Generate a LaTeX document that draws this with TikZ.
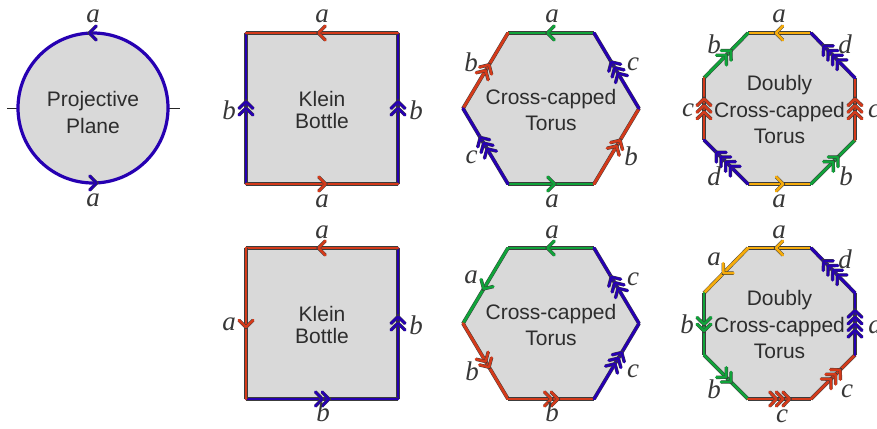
\documentclass[tikz,border=0pt]{standalone}
\usepackage{fontspec}
\setmainfont{Liberation Sans}
\newfontfamily\labfont{Liberation Serif}
\definecolor{cblue}{RGB}{38,0,178}
\definecolor{cred}{RGB}{212,58,26}
\definecolor{cgreen}{RGB}{16,163,58}
\definecolor{corange}{RGB}{246,172,12}
\definecolor{gfill}{RGB}{217,217,217}
\definecolor{txt}{RGB}{45,45,45}
\definecolor{lab}{RGB}{55,55,55}
\definecolor{rim}{RGB}{60,60,60}
\tikzset{
  face/.style={fill=gfill, draw=none},
  side/.style={draw=#1, line width=2.8pt, line cap=round, preaction={draw=rim, line width=3.7pt}},
  chevline/.style={draw=#1, line width=2.5pt, line cap=round, line join=round, preaction={draw=rim, line width=3.4pt}},
  pics/chev/.style args={#1/#2}{code={
    \foreach \k in {1,...,#1}{
      \pgfmathsetmacro\tx{3.6+(\k-(#1+1)/2)*6.6}
      \draw[chevline=#2] (\tx-7,-7.2) -- (\tx,0) -- (\tx-7,7.2);
    }}},
  mid/.style={pos=0.5, sloped, allow upside down},
  lbl/.style={text=lab, font=\labfont\itshape\fontsize{27}{27}\selectfont, anchor=base, inner sep=0pt},
  ttl/.style={text=txt, font=\fontsize{21}{25}\selectfont, anchor=base, inner sep=0pt},
}
\newcommand\polyedge[4]{\draw[side=#3] (#1) -- (#2); \path (#1) -- pic[mid]{chev=#4/#3} (#2);}
\begin{document}
\begin{tikzpicture}[x=1pt,y=-1pt]
\useasboundingbox (0,0) rectangle (877,428);

% ---------- Projective plane ----------
\coordinate (P) at (93,108);
\coordinate (tkL1) at (7,108);  \coordinate (tkL2) at (18,108);
\coordinate (tkR1) at (168,108); \coordinate (tkR2) at (180,108);
\draw[line width=0.9pt, black!85] (tkL1) -- (tkL2);
\draw[line width=0.9pt, black!85] (tkR1) -- (tkR2);
\draw[draw=cblue, line width=3.2pt, fill=gfill] (P) circle[radius=75];
\coordinate (Pt) at (93,33); \coordinate (Pb) at (93,183);
\pic[rotate=180] at (Pt) {chev=1/cblue};
\pic at (Pb) {chev=1/cblue};
\node[ttl] (tP1) at (93,106) {Projective};
\node[ttl] (tP2) at (93,133.3) {Plane};
\node[lbl] (lPt) at (93,22.5) {a};
\node[lbl] (lPb) at (93,206) {a};

% ---------- Klein bottle 1 ----------
\coordinate (K1tl) at (246,33);  \coordinate (K1tr) at (398,33);
\coordinate (K1br) at (398,184); \coordinate (K1bl) at (246,184);
\fill[face] (K1tl) -- (K1tr) -- (K1br) -- (K1bl) -- cycle;
\polyedge{K1bl}{K1tl}{cblue}{2}
\polyedge{K1br}{K1tr}{cblue}{2}
\polyedge{K1tr}{K1tl}{cred}{1}
\polyedge{K1bl}{K1br}{cred}{1}
\node[ttl] (tK1a) at (322,106) {Klein};
\node[ttl] (tK1b) at (322,128.3) {Bottle};
\node[lbl] (lK1t) at (322,23) {a};
\node[lbl] (lK1b) at (322,207) {a};
\node[lbl] (lK1l) at (229,119) {b};
\node[lbl] (lK1r) at (416,119) {b};

% ---------- Klein bottle 2 ----------
\coordinate (K2tl) at (246,248);  \coordinate (K2tr) at (398,248);
\coordinate (K2br) at (398,399);  \coordinate (K2bl) at (246,399);
\fill[face] (K2tl) -- (K2tr) -- (K2br) -- (K2bl) -- cycle;
\polyedge{K2br}{K2tr}{cblue}{2}
\polyedge{K2bl}{K2br}{cblue}{2}
\polyedge{K2tr}{K2tl}{cred}{1}
\polyedge{K2tl}{K2bl}{cred}{1}
\node[ttl] (tK2a) at (322,321) {Klein};
\node[ttl] (tK2b) at (322,343.3) {Bottle};
\node[lbl] (lK2t) at (322,238) {a};
\node[lbl] (lK2l) at (229,330) {a};
\node[lbl] (lK2r) at (416,334) {b};
\node[lbl] (lK2b) at (323,421.5) {b};

% ---------- Hexagon 1 ----------
\coordinate (H1tl) at (508,33);   \coordinate (H1tr) at (594,33);
\coordinate (H1r) at (639,108.5); \coordinate (H1br) at (594,184);
\coordinate (H1bl) at (508,184);  \coordinate (H1l) at (463,108.5);
\fill[face] (H1tl) -- (H1tr) -- (H1r) -- (H1br) -- (H1bl) -- (H1l) -- cycle;
\polyedge{H1tr}{H1tl}{cgreen}{1}
\polyedge{H1bl}{H1br}{cgreen}{1}
\polyedge{H1l}{H1tl}{cred}{2}
\polyedge{H1br}{H1r}{cred}{2}
\polyedge{H1r}{H1tr}{cblue}{3}
\polyedge{H1bl}{H1l}{cblue}{3}
\node[ttl] (tH1a) at (551,104.5) {Cross-capped};
\node[ttl] (tH1b) at (551,130) {Torus};
\node[lbl] (lH1t) at (552,23) {a};
\node[lbl] (lH1b) at (552,207) {a};
\node[lbl] (lH1ul) at (471,71.5) {b};
\node[lbl] (lH1ur) at (633,70.5) {c};
\node[lbl] (lH1ll) at (471.5,163) {c};
\node[lbl] (lH1lr) at (631,165) {b};

% ---------- Hexagon 2 ----------
\coordinate (H2tl) at (508,248);  \coordinate (H2tr) at (594,248);
\coordinate (H2r) at (639,323.5); \coordinate (H2br) at (594,399);
\coordinate (H2bl) at (508,399);  \coordinate (H2l) at (463,323.5);
\fill[face] (H2tl) -- (H2tr) -- (H2r) -- (H2br) -- (H2bl) -- (H2l) -- cycle;
\polyedge{H2tr}{H2tl}{cgreen}{1}
\polyedge{H2tl}{H2l}{cgreen}{1}
\polyedge{H2l}{H2bl}{cred}{2}
\polyedge{H2bl}{H2br}{cred}{2}
\polyedge{H2br}{H2r}{cblue}{3}
\polyedge{H2r}{H2tr}{cblue}{3}
\node[ttl] (tH2a) at (551,319.5) {Cross-capped};
\node[ttl] (tH2b) at (551,345) {Torus};
\node[lbl] (lH2t) at (552,238) {a};
\node[lbl] (lH2ul) at (471,283) {a};
\node[lbl] (lH2ll) at (472,380) {b};
\node[lbl] (lH2b) at (552,421.5) {b};
\node[lbl] (lH2lr) at (633,377) {c};
\node[lbl] (lH2ur) at (633,285) {c};

% ---------- Octagon 1 ----------
\coordinate (O1t1) at (748,33);  \coordinate (O1t2) at (811,33);
\coordinate (O1r1) at (855,78);  \coordinate (O1r2) at (855,140);
\coordinate (O1b2) at (811,184); \coordinate (O1b1) at (748,184);
\coordinate (O1l2) at (704,140); \coordinate (O1l1) at (704,78);
\fill[face] (O1t1) -- (O1t2) -- (O1r1) -- (O1r2) -- (O1b2) -- (O1b1) -- (O1l2) -- (O1l1) -- cycle;
\polyedge{O1t2}{O1t1}{corange}{1}
\polyedge{O1b1}{O1b2}{corange}{1}
\polyedge{O1l1}{O1t1}{cgreen}{2}
\polyedge{O1b2}{O1r2}{cgreen}{2}
\polyedge{O1l2}{O1l1}{cred}{3}
\polyedge{O1r2}{O1r1}{cred}{3}
\polyedge{O1r1}{O1t2}{cblue}{4}
\polyedge{O1b1}{O1l2}{cblue}{4}
\node[ttl] (tO1a) at (779.5,90) {Doubly};
\node[ttl] (tO1b) at (779.5,117.3) {Cross-capped};
\node[ttl] (tO1c) at (779.5,143.3) {Torus};
\node[lbl] (lO1t) at (779,23) {a};
\node[lbl] (lO1b) at (779,207) {a};
\node[lbl] (lO1ul) at (714,53) {b};
\node[lbl] (lO1ur) at (845,53) {d};
\node[lbl] (lO1l) at (688,116.7) {c};
\node[lbl] (lO1r) at (874,117) {c};
\node[lbl] (lO1ll) at (714,185) {d};
\node[lbl] (lO1lr) at (846,185) {b};

% ---------- Octagon 2 ----------
\coordinate (O2t1) at (748,248);  \coordinate (O2t2) at (811,248);
\coordinate (O2r1) at (855,293);  \coordinate (O2r2) at (855,355);
\coordinate (O2b2) at (811,399);  \coordinate (O2b1) at (748,399);
\coordinate (O2l2) at (704,355);  \coordinate (O2l1) at (704,293);
\fill[face] (O2t1) -- (O2t2) -- (O2r1) -- (O2r2) -- (O2b2) -- (O2b1) -- (O2l2) -- (O2l1) -- cycle;
\polyedge{O2t2}{O2t1}{corange}{1}
\polyedge{O2t1}{O2l1}{corange}{1}
\polyedge{O2l1}{O2l2}{cgreen}{2}
\polyedge{O2l2}{O2b1}{cgreen}{2}
\polyedge{O2b1}{O2b2}{cred}{3}
\polyedge{O2b2}{O2r2}{cred}{3}
\polyedge{O2r2}{O2r1}{cblue}{4}
\polyedge{O2r1}{O2t2}{cblue}{4}
\node[ttl] (tO2a) at (779.5,305) {Doubly};
\node[ttl] (tO2b) at (779.5,332.3) {Cross-capped};
\node[ttl] (tO2c) at (779.5,358.3) {Torus};
\node[lbl] (lO2t) at (779,238) {a};
\node[lbl] (lO2ul) at (714,265) {a};
\node[lbl] (lO2l) at (687,333) {b};
\node[lbl] (lO2ll) at (714,398) {b};
\node[lbl] (lO2b) at (782,422) {c};
\node[lbl] (lO2lr) at (847,397) {c};
\node[lbl] (lO2r) at (875,333) {d};
\node[lbl] (lO2ur) at (845,268) {d};
\end{tikzpicture}
\end{document}
